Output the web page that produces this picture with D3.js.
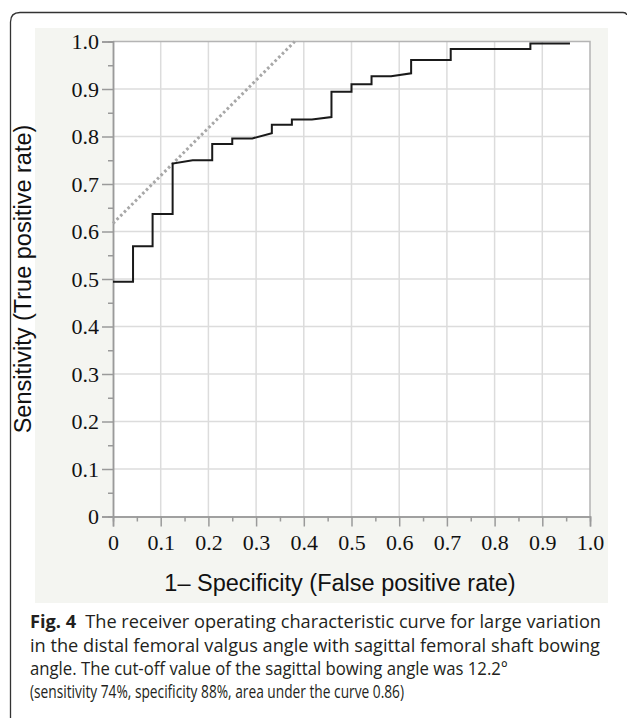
<!DOCTYPE html>
<html>
<head>
<meta charset="utf-8">
<script src="https://cdn.jsdelivr.net/npm/d3@7"></script>
<style>
  body { margin: 0; background: #fff; }
  svg { display: block; }
</style>
</head>
<body>
<script>
// ROC curve
var fpr = [0, 0.042, 0.042, 0.083, 0.083, 0.125, 0.125, 0.167, 0.208, 0.208, 0.25, 0.25, 0.292, 0.333, 0.333,
  0.375, 0.375, 0.417, 0.458, 0.458, 0.5, 0.5, 0.542, 0.542, 0.583, 0.625, 0.625, 0.708, 0.708, 0.875, 0.875, 0.958];
var tpr = [0.494, 0.494, 0.569, 0.569, 0.637, 0.637, 0.743, 0.750, 0.750, 0.784, 0.784, 0.796, 0.796, 0.807, 0.825,
  0.825, 0.836, 0.836, 0.841, 0.894, 0.894, 0.910, 0.910, 0.927, 0.927, 0.933, 0.961, 0.961, 0.984, 0.984, 0.996, 0.996];

// dotted tangent line through the cut-off point
var tangentX = [0, 0.381];
var tangentY = [0.617, 1.0];

var tickValues = [0, 0.1, 0.2, 0.3, 0.4, 0.5, 0.6, 0.7, 0.8, 0.9, 1.0];
var tickLabels = ["0", "0.1", "0.2", "0.3", "0.4", "0.5", "0.6", "0.7", "0.8", "0.9", "1.0"];
var minorTicks = [0.05, 0.15, 0.25, 0.35, 0.45, 0.55, 0.65, 0.75, 0.85, 0.95];

var xTitle = "1\u2013 Specificity (False positive rate)";
var yTitle = "Sensitivity (True positive rate)";
var captionLines = [
  "The receiver operating characteristic curve for large variation",
  "in the distal femoral valgus angle with sagittal femoral shaft bowing",
  "angle. The cut-off value of the sagittal bowing angle was 12.2\u00b0",
  "(sensitivity 74%, specificity 88%, area under the curve 0.86)"
];

var width = 627, height = 718;

var svg = d3.select("body").append("svg")
  .attr("width", width).attr("height", height);

// outer figure frame (rounded top-left, runs off the right and bottom)
svg.append("path")
  .attr("d", "M10.5,718 V22 Q10.5,12.5 20,12.5 H623 Q626.5,12.5 626.5,15")
  .attr("fill", "none").attr("stroke", "#333").attr("stroke-width", 1.3);

// grey panel behind the chart
svg.append("rect")
  .attr("x", 35).attr("y", 28).attr("width", 573).attr("height", 575)
  .attr("fill", "#f4f5f1");

var x = d3.scaleLinear().domain([0, 1]).range([113, 590]);
var y = d3.scaleLinear().domain([0, 1]).range([516.5, 41.5]);

// plot area
svg.append("rect")
  .attr("x", x(0)).attr("y", y(1))
  .attr("width", x(1) - x(0)).attr("height", y(0) - y(1))
  .attr("fill", "#fff");

var grid = svg.append("g");
grid.selectAll(".vg").data(tickValues.slice(1, -1)).enter().append("line")
  .attr("x1", function(d) { return x(d); }).attr("x2", function(d) { return x(d); })
  .attr("y1", y(0)).attr("y2", y(1))
  .attr("stroke", "#dcdcdc").attr("stroke-width", 1.5);
grid.selectAll(".hg").data(tickValues.slice(1, -1)).enter().append("line")
  .attr("y1", function(d) { return y(d); }).attr("y2", function(d) { return y(d); })
  .attr("x1", x(0)).attr("x2", x(1))
  .attr("stroke", "#dcdcdc").attr("stroke-width", 1.5);

// top / right edges of the plot box
svg.append("path")
  .attr("d", "M" + x(0) + "," + y(1) + "H" + x(1) + "V" + y(0))
  .attr("fill", "none").attr("stroke", "#b4b4b4").attr("stroke-width", 1.5);

function styleAxis(g) {
  g.select(".domain").attr("stroke", "#9a9a9a").attr("stroke-width", 1.5);
  g.selectAll(".tick line").attr("stroke", "#9a9a9a").attr("stroke-width", 1.5);
  g.selectAll(".tick text")
    .attr("fill", "#111")
    .style("font-family", "'Liberation Serif', 'Times New Roman', serif")
    .style("font-size", "22px");
}

var fmt = function(d) { return tickLabels[tickValues.indexOf(d)]; };

svg.append("g").attr("transform", "translate(0," + y(0) + ")")
  .call(d3.axisBottom(x).tickValues(minorTicks).tickSize(5).tickFormat(""))
  .call(styleAxis);
svg.append("g").attr("transform", "translate(" + x(0) + ",0)")
  .call(d3.axisLeft(y).tickValues(minorTicks).tickSize(5).tickFormat(""))
  .call(styleAxis);

svg.append("g").attr("transform", "translate(0," + y(0) + ")")
  .call(d3.axisBottom(x).tickValues(tickValues).tickSize(10).tickPadding(8).tickFormat(fmt))
  .call(styleAxis);
svg.append("g").attr("transform", "translate(" + x(0) + ",0)")
  .call(d3.axisLeft(y).tickValues(tickValues).tickSize(11).tickPadding(3).tickFormat(fmt))
  .call(styleAxis);

// tangent line
svg.append("line")
  .attr("x1", x(tangentX[0])).attr("y1", y(tangentY[0]))
  .attr("x2", x(tangentX[1])).attr("y2", y(tangentY[1]))
  .attr("stroke", "#a8a8a8").attr("stroke-width", 3)
  .attr("stroke-dasharray", "2.6,2.6");

// ROC curve
var pts = fpr.map(function(v, i) { return [v, tpr[i]]; });
svg.append("path")
  .datum(pts)
  .attr("d", d3.line().x(function(d) { return x(d[0]); }).y(function(d) { return y(d[1]); }))
  .attr("fill", "none").attr("stroke", "#1a1a1a").attr("stroke-width", 2);

// axis titles
svg.append("text")
  .attr("x", 340).attr("y", 591)
  .attr("text-anchor", "middle")
  .style("font-family", "'Liberation Sans', Arial, sans-serif")
  .style("font-size", "23.5px").attr("fill", "#111")
  .text(xTitle);

svg.append("text")
  .attr("transform", "translate(31," + (y(0) + y(1)) / 2 + ") rotate(-90)")
  .attr("text-anchor", "middle")
  .style("font-family", "'Liberation Sans', Arial, sans-serif")
  .style("font-size", "23.5px").attr("fill", "#111")
  .text(yTitle);

// caption
var capW = [571, 570, 478, 374];
var capY = [628, 652, 675, 698];
var cap = svg.append("g")
  .style("font-family", "'Open Sans', 'Noto Sans', sans-serif")
  .style("font-size", "18.5px").attr("fill", "#231f20");

captionLines.forEach(function(line, i) {
  var t = cap.append("text")
    .attr("x", 30).attr("y", capY[i])
    .attr("textLength", capW[i]).attr("lengthAdjust", "spacingAndGlyphs");
  if (i === 0) {
    t.append("tspan").style("font-weight", "bold").text("Fig. 4");
    t.append("tspan").text("\u2002" + line);
  } else {
    t.text(line);
  }
});
</script>
</body>
</html>
